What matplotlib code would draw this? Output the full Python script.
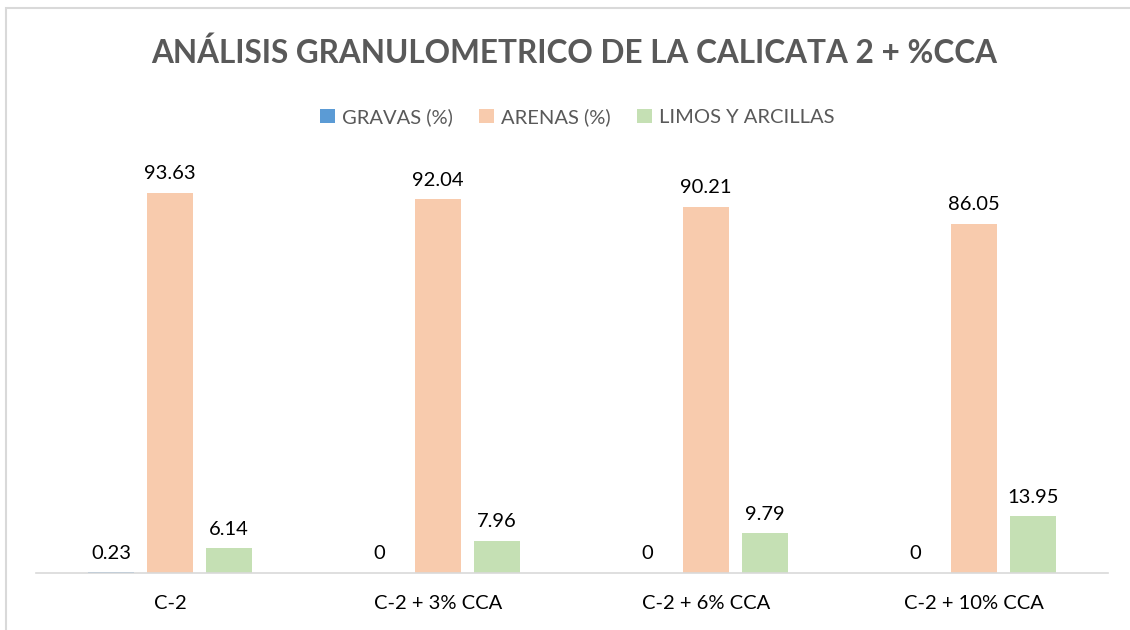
import numpy as np
import matplotlib.pyplot as plt
from matplotlib.patches import Rectangle

# data
categories = ["C-2", "C-2 + 3% CCA", "C-2 + 6% CCA", "C-2 + 10% CCA"]
series_names = ["GRAVAS (%)", "ARENAS (%)", "LIMOS Y ARCILLAS"]
gravas = [0.23, 0, 0, 0]
arenas = [93.63, 92.04, 90.21, 86.05]
limos = [6.14, 7.96, 9.79, 13.95]

colors = ["#5B9BD5", "#F8CBAD", "#C5E0B4"]
text_gray = "#595959"

plt.rcParams['font.family'] = ['Lato', 'DejaVu Sans']

W, H = 1130, 630
fig = plt.figure(figsize=(W / 100, H / 100), dpi=100)
fig.patch.set_facecolor("white")

# chart border (only left and top visible in the crop)
fig.patches.append(Rectangle((6 / W, -0.2), 1.5, 1.2 - 8 / H, transform=fig.transFigure,
                             fill=False, edgecolor="#D9D9D9", linewidth=1.5))

ax = fig.add_axes([36 / W, 1 - 573 / H, (1108 - 36) / W, (573 - 167) / H])

x = np.arange(len(categories))
bw = 0.175
step = 0.22
for i, (vals, name) in enumerate(zip([gravas, arenas, limos], series_names)):
    pos = x + (i - 1) * step
    ax.bar(pos, vals, width=bw, color=colors[i], label=name, zorder=2)
    for p, v in zip(pos, vals):
        lab = f"{v:g}" if v != 0 else "0"
        ax.text(p, v + 2.6, lab, ha="center", va="bottom", fontsize=14.5, color="black")

ax.set_xlim(-0.5, len(categories) - 0.5)
ax.set_ylim(0, 100)
ax.set_xticks(x)
ax.set_xticklabels(categories, fontsize=14.5, color="black")
ax.tick_params(axis="x", length=0, pad=16)
ax.set_yticks([])
for s in ["top", "right", "left"]:
    ax.spines[s].set_visible(False)
ax.spines["bottom"].set_color("#D9D9D9")
ax.spines["bottom"].set_linewidth(1.2)

fig.text(0.508, 1 - 53 / H, "ANÁLISIS GRANULOMETRICO DE LA CALICATA 2 + %CCA",
         ha="center", va="center", fontsize=22.7, fontweight="bold", color=text_gray)

leg = fig.legend(loc="center", bbox_to_anchor=(577 / W, 1 - 117 / H), ncol=3,
                 frameon=False, fontsize=14.5, handlelength=0.75, handleheight=0.75,
                 handletextpad=0.35, columnspacing=1.3)
for t in leg.get_texts():
    t.set_color(text_gray)

fig.savefig("out.png", dpi=100, facecolor="white")
